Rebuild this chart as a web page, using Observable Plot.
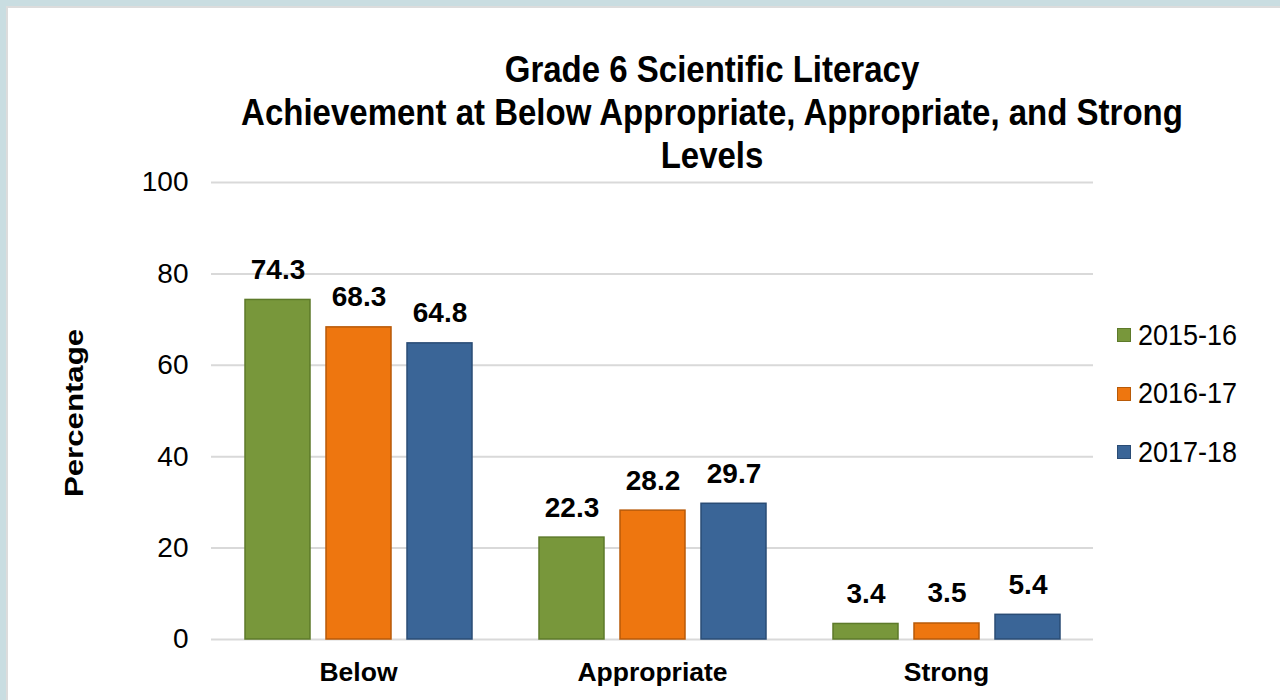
<!DOCTYPE html>
<html>
<head>
<meta charset="utf-8">
<script src="https://cdn.jsdelivr.net/npm/d3@7"></script>
<script src="https://cdn.jsdelivr.net/npm/@observablehq/plot@0.6"></script>
<style>
  html, body { margin: 0; padding: 0; }
  body { width: 1280px; height: 700px; background: #c9dde1; position: relative; overflow: hidden; font-family: "Liberation Sans", Arial, sans-serif; }
  #panel { position: absolute; left: 6px; top: 6px; width: 1274px; height: 694px; background: #dcdcdc; }
  #inner { position: absolute; left: 2px; top: 2px; right: 0; bottom: 0; background: #fff; }
  #title { position: absolute; left: 0; top: 0; width: 100%; text-align: center; font-weight: bold; font-size: 33px; line-height: 43px; color: #000; }
  #title span { display: inline-block; transform: scaleY(1.12); }
  #chart { position: absolute; left: 0; top: 0; }
  #legend { position: absolute; left: 1109px; top: 298px; font-size: 27px; color: #000; }
  .item { display: flex; align-items: center; height: 58.5px; }
  .sw { width: 14px; height: 14px; margin-right: 7px; box-sizing: border-box; }
</style>
</head>
<body>
<div id="panel"><div id="inner">
  <div id="chart"></div>
  <div id="title" style="top:40px; left:68px"><span>Grade 6 Scientific Literacy</span><br><span>Achievement at Below Appropriate, Appropriate, and Strong</span><br><span>Levels</span></div>
  <div id="legend"></div>
</div></div>
<script>
const categories = ["Below", "Appropriate", "Strong"];
const years = ["2015-16", "2016-17", "2017-18"];
const values2015 = [74.3, 22.3, 3.4];
const values2016 = [68.3, 28.2, 3.5];
const values2017 = [64.8, 29.7, 5.4];
const yTicks = [0, 20, 40, 60, 80, 100];
const colors = ["#78973b", "#ee760f", "#3a6597"];
const strokes = ["#5d7a2a", "#b85a08", "#2a4c75"];

const seriesValues = [values2015, values2016, values2017];
const data = [];
categories.forEach((c, i) => years.forEach((y, j) => data.push({category: c, year: y, value: seriesValues[j][i]})));

const chart = Plot.plot({
  width: 1272,
  height: 692,
  marginLeft: 203,
  marginRight: 187,
  marginTop: 174,
  marginBottom: 61,
  style: {fontFamily: "'Liberation Sans', Arial, sans-serif", background: "transparent", color: "#000", overflow: "visible"},
  fx: {domain: categories, padding: 0, label: null},
  x: {domain: years, paddingInner: 0.2, paddingOuter: 0.4, axis: null},
  y: {domain: [0, 100], label: null},
  color: {domain: years, range: colors},
  marks: [
    Plot.gridY(yTicks, {stroke: "#d9d9d9", strokeOpacity: 1, strokeWidth: 2}),
    Plot.axisY(yTicks, {tickSize: 0, tickPadding: 23, fontSize: 28, label: null}),
    Plot.axisFx({anchor: "bottom", tickSize: 0, tickPadding: 23, fontSize: 26.5, fontWeight: "bold", label: null}),
    Plot.barY(data, {fx: "category", x: "year", y: "value", fill: "year", stroke: d => strokes[years.indexOf(d.year)], strokeWidth: 1.5}),
    Plot.text(data, {fx: "category", x: "year", y: "value", text: d => d.value.toFixed(1), dy: -30, fontSize: 28, fontWeight: "bold", fill: "#000"})
  ]
});
document.getElementById("chart").appendChild(chart);

const svg = d3.select(chart);

// y-axis title
svg.append("text")
  .attr("transform", "translate(68,405) scale(1,1.2) rotate(-90)")
  .attr("text-anchor", "middle")
  .attr("dominant-baseline", "middle")
  .attr("font-size", 26)
  .attr("font-weight", "bold")
  .text("Percentage");

const legend = document.getElementById("legend");
years.forEach((y, i) => {
  const item = document.createElement("div");
  item.className = "item";
  item.innerHTML = `<div class="sw" style="background:${colors[i]};border:1px solid ${strokes[i]}"></div><span style="display:inline-block;transform:scaleY(1.1)">${y}</span>`;
  legend.appendChild(item);
});
</script>
</body>
</html>
